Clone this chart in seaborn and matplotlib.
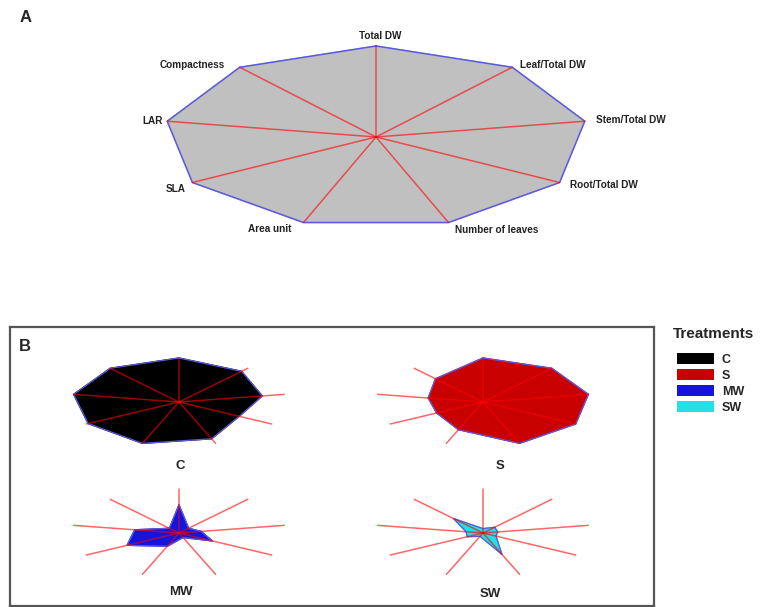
import numpy as np
import pandas as pd
import matplotlib
matplotlib.use("Agg")
import matplotlib.pyplot as plt
from matplotlib.patches import Patch
import seaborn as sns

# ---- data -------------------------------------------------
variables = ["Total DW", "Leaf/Total DW", "Stem/Total DW", "Root/Total DW",
             "Number of leaves", "Area unit", "SLA", "LAR", "Compactness"]
panel_a = [1, 1, 1, 1, 1, 1, 1, 1, 1]

treatments = ["C", "S", "MW", "SW"]
val_c = [1.00, 0.91, 0.79, 0.65, 0.89, 1.00, 0.98, 1.00, 1.00]
val_s = [1.00, 1.00, 1.00, 1.00, 1.00, 0.67, 0.50, 0.52, 0.69]
val_mw = [0.64, 0.14, 0.21, 0.36, 0.11, 0.32, 0.56, 0.42, 0.14]
val_sw = [0.10, 0.17, 0.14, 0.14, 0.52, 0.08, 0.17, 0.16, 0.43]
treat_colors = ["#000000", "#c80000", "#1414dc", "#22e0e6"]

# ---- style -------------------------------------------------
sns.set_theme(style="white")
plt.rcParams["font.family"] = ["Liberation Sans", "DejaVu Sans"]

W, H = 760, 607
fig = plt.figure(figsize=(W / 100, H / 100), dpi=100)

angles = np.deg2rad(90 - 40 * np.arange(len(variables)))
RAY = "#ff0000"
EDGE = "#5a5ae0"


def glyph_ax(cx, cy, rx, ry, pad=1.35):
    # axes placed so that radius 1 = rx pixels wide, ry pixels tall
    ax = fig.add_axes([(cx - rx * pad) / W, (H - cy - ry * pad) / H,
                       2 * rx * pad / W, 2 * ry * pad / H])
    ax.set_xlim(-pad, pad)
    ax.set_ylim(-pad, pad)
    ax.axis("off")
    return ax


def star(ax, values, fill, ray_len=None, lw_edge=0.9):
    v = np.asarray(values, dtype=float)
    xs, ys = v * np.cos(angles), v * np.sin(angles)
    ax.fill(xs, ys, color=fill, zorder=1)
    ax.plot(np.append(xs, xs[0]), np.append(ys, ys[0]), color=EDGE,
            lw=lw_edge, zorder=2)
    r = np.ones_like(v) if ray_len is None else ray_len
    rays = pd.DataFrame({
        "var": np.repeat(variables, 2),
        "x": np.ravel([[0, a] for a in r * np.cos(angles)]),
        "y": np.ravel([[0, b] for b in r * np.sin(angles)]),
    })
    sns.lineplot(data=rays, x="x", y="y", units="var", estimator=None,
                 sort=False, color=RAY, alpha=0.6, lw=1.1, ax=ax, zorder=3)
    ax.set_xlabel("")
    ax.set_ylabel("")


# ---- panel A ----------------------------------------------
fig.text(20 / W, 1 - 17 / H, "A", fontsize=12, fontweight="bold",
         va="center", ha="left")
axA = glyph_ax(376, 137, 212, 91, pad=1.45)
star(axA, panel_a, "#c0c0c0", lw_edge=1.1)

label_pos = [((4, 10), "center"), ((8, 2), "left"), ((11, 1), "left"),
             ((10, -3), "left"), ((6, -7), "left"), ((-12, -6), "right"),
             ((-7, -7), "right"), ((-4, 0), "right"), ((-15, 2), "right")]
for name, a, v, (off, ha) in zip(variables, angles, panel_a, label_pos):
    axA.annotate(name, xy=(v * np.cos(a), v * np.sin(a)), xytext=off,
                 textcoords="offset pixels", ha=ha, va="center",
                 fontsize=7.2, fontweight="bold", color="#222222")

# ---- panel B ----------------------------------------------
box = fig.add_axes([10 / W, 1 / H, 644 / W, 279 / H])
box.set_xticks([])
box.set_yticks([])
for sp in box.spines.values():
    sp.set_color("#555555")
    sp.set_linewidth(1.6)
box.text(0.014, 0.93, "B", transform=box.transAxes, fontsize=12,
         fontweight="bold", va="center", ha="left")

centers = [(179, 402), (483, 402), (179, 533), (483, 533)]
label_xy = [(180, 466), (500, 466), (181, 592), (490, 594)]
for name, vals, col, (cx, cy), (lx, ly) in zip(
        treatments, [val_c, val_s, val_mw, val_sw], treat_colors,
        centers, label_xy):
    ax = glyph_ax(cx, cy, 107, 44)
    star(ax, vals, col, ray_len=np.ones(len(variables)))
    fig.text(lx / W, 1 - ly / H, name, fontsize=9.5, fontweight="bold",
             ha="center", va="center")

handles = [Patch(facecolor=c, edgecolor="none") for c in treat_colors]
leg = fig.legend(handles, treatments, loc="upper left",
                 bbox_to_anchor=(668 / W, 1 - 318 / H), frameon=False,
                 title="Treatments", alignment="left",
                 prop={"weight": "bold", "size": 9},
                 title_fontproperties={"weight": "bold", "size": 11},
                 handlelength=3.0, handleheight=0.95, labelspacing=0.26,
                 handletextpad=0.6, borderpad=0.2)
leg._legend_box.sep = 9
leg.get_title().set_position((-4, 0))

fig.savefig("out.png", dpi=100)
